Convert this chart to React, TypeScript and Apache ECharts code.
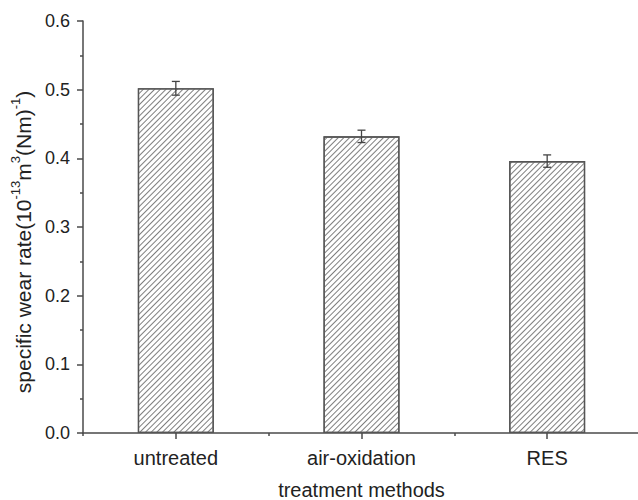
import React, { useEffect, useRef } from "react";
import * as echarts from "echarts";

// Treatment methods and their specific wear rates (10^-13 m^3 (Nm)^-1)
const categories = ["untreated", "air-oxidation", "RES"];
const wearRate = [0.502, 0.432, 0.396];
const wearError = [0.01, 0.009, 0.009];
const yTicks = [0, 0.1, 0.2, 0.3, 0.4, 0.5, 0.6];

const FONT = "'Liberation Sans', Arial, sans-serif";
const AXIS_COLOR = "#4a4a4a";
const TEXT_COLOR = "#222";

export default function App() {
  const ref = useRef<HTMLDivElement>(null);

  useEffect(() => {
    if (!ref.current) return;
    const chart = echarts.init(ref.current, undefined, { renderer: "svg" });

    const errorData = wearRate.map((v, i) => [i, v - wearError[i], v + wearError[i]]);

    chart.setOption({
      animation: false,
      backgroundColor: "#fff",
      grid: { left: 83, right: -2, top: 21, bottom: 67, containLabel: false, outerBoundsMode: "none" },
      xAxis: [
        {
          type: "category",
          data: categories,
          name: "treatment methods",
          nameLocation: "middle",
          nameGap: 47,
          nameTextStyle: { fontSize: 20, fontFamily: FONT, color: TEXT_COLOR },
          axisLine: { show: true, lineStyle: { color: AXIS_COLOR, width: 1.5 } },
          axisTick: { show: true, alignWithLabel: true, length: 6, lineStyle: { color: AXIS_COLOR, width: 1.5 } },
          axisLabel: { fontSize: 20, fontFamily: FONT, color: TEXT_COLOR, margin: 15 },
          splitLine: { show: false },
        },
        {
          // boundary ticks between categories
          type: "category",
          data: categories,
          position: "bottom",
          axisLine: { show: false },
          axisTick: { show: true, alignWithLabel: false, length: 3, lineStyle: { color: AXIS_COLOR, width: 1.5 } },
          axisLabel: { show: false },
          splitLine: { show: false },
        },
      ],
      yAxis: {
        type: "value",
        min: yTicks[0],
        max: yTicks[yTicks.length - 1],
        interval: 0.1,
        name: "{a|specific wear rate(10}{s|-13}{a|m}{s|3}{a|(Nm)}{s|-1}{a|)}",
        nameLocation: "middle",
        nameGap: 44,
        nameRotate: 90,
        nameTextStyle: {
          padding: [0, 30, 0, 0],
          rich: {
            a: { fontSize: 21, fontFamily: FONT, color: TEXT_COLOR, lineHeight: 25, verticalAlign: "bottom" },
            s: { fontSize: 13, fontFamily: FONT, color: TEXT_COLOR, lineHeight: 25, verticalAlign: "top" },
          },
        },
        axisLine: { show: true, lineStyle: { color: AXIS_COLOR, width: 1.5 } },
        axisTick: { show: true, inside: false, length: 6, lineStyle: { color: AXIS_COLOR, width: 1.5 } },
        minorTick: { show: true, splitNumber: 2, length: 3, lineStyle: { color: AXIS_COLOR, width: 1.5 } },
        axisLabel: {
          fontSize: 18,
          fontFamily: FONT,
          color: TEXT_COLOR,
          margin: 13,
          formatter: (v: number) => v.toFixed(1),
        },
        splitLine: { show: false },
      },
      series: [
        {
          type: "bar",
          data: wearRate,
          barWidth: 76,
          itemStyle: {
            color: "#fff",
            borderColor: "#555",
            borderWidth: 1.3,
            decal: {
              symbol: "rect",
              symbolSize: 1,
              color: "#7e7e7e",
              backgroundColor: "#fff",
              dashArrayX: [1, 0],
              dashArrayY: [0.9, 2.4],
              rotation: -Math.PI / 4,
            },
          },
        },
        {
          type: "custom",
          data: errorData,
          z: 10,
          renderItem: (params: any, api: any) => {
            const x = api.value(0);
            const lo = api.coord([x, api.value(1)]);
            const hi = api.coord([x, api.value(2)]);
            const cap = 4;
            const style = { stroke: "#444", lineWidth: 1.3 };
            return {
              type: "group",
              children: [
                { type: "line", shape: { x1: hi[0], y1: hi[1], x2: lo[0], y2: lo[1] }, style },
                { type: "line", shape: { x1: hi[0] - cap, y1: hi[1], x2: hi[0] + cap, y2: hi[1] }, style },
                { type: "line", shape: { x1: lo[0] - cap, y1: lo[1], x2: lo[0] + cap, y2: lo[1] }, style },
              ],
            };
          },
        },
      ],
    });

    return () => chart.dispose();
  }, []);

  return (
    <div
      ref={ref}
      style={{ position: "absolute", left: 0, top: 0, width: 638, height: 500, background: "#fff" }}
    />
  );
}
